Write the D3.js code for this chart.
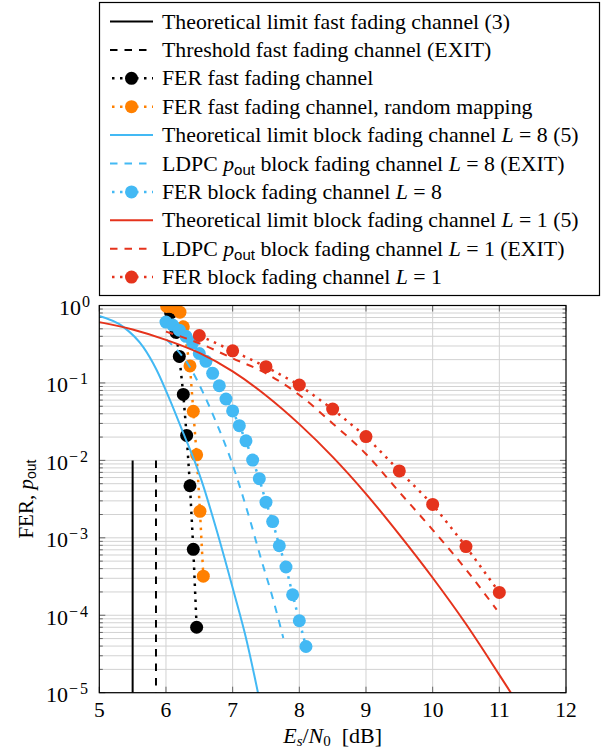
<!DOCTYPE html>
<html lang="en">
<head>
<meta charset="utf-8">
<script src="https://d3js.org/d3.v7.min.js"></script>
<style>
  body { margin: 0; background: #fff; }
  text { font-family: "Liberation Serif", "DejaVu Serif", serif; fill: #000; }
</style>
</head>
<body>
<svg id="chart" width="602" height="751"></svg>
<script>
// ---- data ----
const xTicks = [5, 6, 7, 8, 9, 10, 11, 12];
const yExps = [0, -1, -2, -3, -4, -5];

// fast fading limits (vertical lines from 1e-2 down)
const limitFast = [[5.5, 1e-2], [5.5, 1e-5]];
const thresholdFast = [[5.85, 1e-2], [5.85, 1e-5]];

const ferFastX = [6.07, 6.15, 6.2, 6.26, 6.31, 6.36, 6.41, 6.46];
const ferFastY = [0.8, 0.45, 0.22, 0.071, 0.021, 0.0047, 7.1e-4, 7e-5];

const ferRandX = [6.01, 6.07, 6.14, 6.21, 6.26, 6.36, 6.41, 6.46, 6.51, 6.56];
const ferRandY = [0.97, 0.97, 0.93, 0.82, 0.53, 0.166, 0.043, 0.0118, 0.0022, 3.2e-4];

const limitL8X = [5.0, 5.36, 5.66, 5.86, 6.06, 6.26, 6.46, 6.53, 6.76, 7.01, 7.21, 7.38];
const limitL8Y = [0.73, 0.53, 0.29, 0.147, 0.06, 0.0225, 0.0083, 0.0056, 0.00125, 2.1e-4, 4.7e-5, 1e-5];

const ldpcL8X = [6.01, 6.36, 6.56, 6.76, 6.96, 7.26, 7.43, 7.58, 7.76];
const ldpcL8Y = [0.36, 0.16, 0.074, 0.03, 0.011, 0.0017, 5.2e-4, 1.94e-4, 5.1e-5];

const ferL8X = [6.0, 6.1, 6.2, 6.3, 6.4, 6.5, 6.6, 6.7, 6.8, 6.9, 7.0,
                7.1, 7.2, 7.3, 7.4, 7.5, 7.6, 7.7, 7.8, 7.9, 8.0, 8.1];
const ferL8Y = [0.61, 0.56, 0.48, 0.40, 0.33, 0.24, 0.19, 0.133, 0.092, 0.062, 0.0435,
                0.0281, 0.0179, 0.0101, 0.0058, 0.00289, 0.00162, 7.9e-4, 4.2e-4, 1.84e-4, 8.5e-5, 3.95e-5];

const limitL1X = [5.0, 5.5, 6.0, 6.5, 7.0, 7.5, 8.0, 8.5, 9.0, 9.5, 10.0, 10.5, 11.0, 11.2];
const limitL1Y = [0.61, 0.49, 0.36, 0.244, 0.141, 0.069, 0.0294, 0.0111, 0.0037, 0.0011, 3.05e-4, 7.7e-5, 1.7e-5, 9.2e-6];

const ldpcL1X = [6.0, 6.5, 7.0, 7.5, 8.0, 8.5, 9.0, 9.5, 10.0, 10.5, 10.96];
const ldpcL1Y = [0.46, 0.325, 0.208, 0.133, 0.07, 0.03, 0.0121, 0.0039, 0.00127, 3.9e-4, 1.18e-4];

const ferL1X = [6.5, 7.0, 7.5, 8.0, 8.5, 9.0, 9.5, 10.0, 10.5, 11.0];
const ferL1Y = [0.41, 0.26, 0.162, 0.094, 0.046, 0.0203, 0.0073, 0.0027, 7.7e-4, 1.97e-4];

const black = "#000000", orange = "#ff8000", blue = "#43b9f4", red = "#e5331c";

// legend labels: segments [text, kind]
const legendLabels = [
  [["Theoretical limit fast fading channel (3)"]],
  [["Threshold fast fading channel (EXIT)"]],
  [["FER fast fading channel"]],
  [["FER fast fading channel, random mapping"]],
  [["Theoretical limit block fading channel "], ["L", "it"], [" = 8 (5)"]],
  [["LDPC "], ["p", "it"], ["out", "sub"], [" block fading channel "], ["L", "it"], [" = 8 (EXIT)"]],
  [["FER block fading channel "], ["L", "it"], [" = 8"]],
  [["Theoretical limit block fading channel "], ["L", "it"], [" = 1 (5)"]],
  [["LDPC "], ["p", "it"], ["out", "sub"], [" block fading channel "], ["L", "it"], [" = 1 (EXIT)"]],
  [["FER block fading channel "], ["L", "it"], [" = 1"]]
];

const zip = (xs, ys) => xs.map((v, i) => [v, ys[i]]);

const series = [
  {pts: limitFast, color: black, style: "solid"},
  {pts: thresholdFast, color: black, style: "dashed"},
  {pts: zip(ferFastX, ferFastY), color: black, style: "dotted", marker: true},
  {pts: zip(ferRandX, ferRandY), color: orange, style: "dotted", marker: true},
  {pts: zip(limitL8X, limitL8Y), color: blue, style: "solid", smooth: true},
  {pts: zip(ldpcL8X, ldpcL8Y), color: blue, style: "dashed", smooth: true},
  {pts: zip(ferL8X, ferL8Y), color: blue, style: "dotted", marker: true},
  {pts: zip(limitL1X, limitL1Y), color: red, style: "solid", smooth: true},
  {pts: zip(ldpcL1X, ldpcL1Y), color: red, style: "dashed", smooth: true},
  {pts: zip(ferL1X, ferL1Y), color: red, style: "dotted", marker: true}
];

// ---- layout ----
const pL = 99.3, pR = 566, pT = 305.5, pB = 692.7;
const x = d3.scaleLinear().domain([5, 12]).range([pL, pR]);
const y = d3.scaleLog().domain([1e-5, 1]).range([pB, pT]);

const svg = d3.select("#chart");
const dash = {solid: null, dashed: "7.5,7", dotted: "2.5,5.5"};
const lineW = {solid: 2, dashed: 2, dotted: 2.5};

// grid
const minorVals = [];
for (let e = -5; e <= 0; e++) for (let k = 1; k <= 9; k++) {
  const v = k * Math.pow(10, e);
  if (v <= 1) minorVals.push(v);
}
const grid = svg.append("g");
grid.selectAll("line.h").data(minorVals).join("line")
  .attr("x1", pL).attr("x2", pR)
  .attr("y1", d => y(d)).attr("y2", d => y(d))
  .attr("stroke", "#d2d2d2").attr("stroke-width", 1);
grid.selectAll("line.v").data(xTicks.slice(1, -1)).join("line")
  .attr("x1", d => x(d)).attr("x2", d => x(d))
  .attr("y1", pT).attr("y2", pB)
  .attr("stroke", "#d2d2d2").attr("stroke-width", 1);

// ticks (inside, all four sides)
const ticks = svg.append("g").attr("stroke", "#666").attr("stroke-width", 1);
minorVals.forEach(v => {
  const major = Math.abs(Math.log10(v) - Math.round(Math.log10(v))) < 1e-9;
  const len = major ? 6 : 3.5;
  ticks.append("line").attr("x1", pL).attr("x2", pL + len).attr("y1", y(v)).attr("y2", y(v));
  ticks.append("line").attr("x1", pR).attr("x2", pR - len).attr("y1", y(v)).attr("y2", y(v));
});
xTicks.forEach(v => {
  ticks.append("line").attr("x1", x(v)).attr("x2", x(v)).attr("y1", pB).attr("y2", pB - 6);
  ticks.append("line").attr("x1", x(v)).attr("x2", x(v)).attr("y1", pT).attr("y2", pT + 6);
});

// data
svg.append("clipPath").attr("id", "clip").append("rect")
  .attr("x", pL).attr("y", pT).attr("width", pR - pL).attr("height", pB - pT);
const plot = svg.append("g").attr("clip-path", "url(#clip)");

series.forEach(s => {
  const line = d3.line().x(d => x(d[0])).y(d => y(d[1]))
    .curve(s.smooth ? d3.curveMonotoneX : d3.curveLinear);
  plot.append("path").attr("d", line(s.pts))
    .attr("fill", "none").attr("stroke", s.color)
    .attr("stroke-width", lineW[s.style])
    .attr("stroke-dasharray", dash[s.style]);
  if (s.marker) {
    plot.append("g").selectAll("circle").data(s.pts).join("circle")
      .attr("cx", d => x(d[0])).attr("cy", d => y(d[1])).attr("r", 6.5)
      .attr("fill", s.color);
  }
});

// frame
svg.append("rect").attr("x", pL).attr("y", pT)
  .attr("width", pR - pL).attr("height", pB - pT)
  .attr("fill", "none").attr("stroke", "#000").attr("stroke-width", 1.2);

// x tick labels
svg.append("g").selectAll("text").data(xTicks).join("text")
  .attr("x", d => x(d)).attr("y", 717)
  .attr("text-anchor", "middle").attr("font-size", 21.5)
  .text(d => d);

// y tick labels 10^e
yExps.forEach(e => {
  const t = svg.append("text").attr("x", 90).attr("y", y(Math.pow(10, e)) + 9.5)
    .attr("text-anchor", "end").attr("font-size", 22);
  t.append("tspan").text("10");
  t.append("tspan").attr("dy", -8).attr("dx", 1).attr("font-size", 16)
    .attr("letter-spacing", e === 0 ? 0 : 2)
    .text(e === 0 ? "0" : "\u2212" + (-e));
});

// axis labels
const xl = svg.append("text").attr("x", (pL + pR) / 2).attr("y", 743)
  .attr("text-anchor", "middle").attr("font-size", 22);
xl.append("tspan").attr("font-style", "italic").text("E");
xl.append("tspan").attr("font-style", "italic").attr("font-size", 15).attr("dy", 3).text("s");
xl.append("tspan").attr("dy", -3).text("/");
xl.append("tspan").attr("font-style", "italic").text("N");
xl.append("tspan").attr("font-size", 15).attr("dy", 3).text("0");
xl.append("tspan").attr("dy", -3).text("\u2002[dB]");

const yl = svg.append("text")
  .attr("transform", `translate(33,${(pT + pB) / 2}) rotate(-90)`)
  .attr("text-anchor", "middle").attr("font-size", 21);
yl.append("tspan").text("FER, ");
yl.append("tspan").attr("font-style", "italic").text("p");
yl.append("tspan").attr("font-size", 14).attr("dy", 3)
  .style("font-family", "'Liberation Sans', sans-serif").text("out");

// legend
const lg = svg.append("g");
lg.append("rect").attr("x", 99.5).attr("y", 2.5).attr("width", 500).attr("height", 293)
  .attr("fill", "#fff").attr("stroke", "#000").attr("stroke-width", 1.2);
series.forEach((s, i) => {
  const cy = 21.5 + 28.4 * i;
  lg.append("line").attr("x1", 110).attr("x2", 153).attr("y1", cy).attr("y2", cy)
    .attr("stroke", s.color).attr("stroke-width", lineW[s.style])
    .attr("stroke-dasharray", dash[s.style])
    .attr("stroke-dashoffset", s.style === "dotted" ? -2 : 0);
  if (s.marker) lg.append("circle").attr("cx", 131.5).attr("cy", cy).attr("r", 6.5).attr("fill", s.color);
  const t = lg.append("text").attr("x", 162).attr("y", cy + 7).attr("font-size", 21.8)
    .attr("xml:space", "preserve");
  let shifted = 0;
  legendLabels[i].forEach(([txt, kind]) => {
    const ts = t.append("tspan").text(txt);
    if (kind === "it") ts.attr("font-style", "italic");
    if (kind === "sub") {
      ts.attr("font-size", 15).attr("dy", 4)
        .style("font-family", "'Liberation Sans', sans-serif");
      shifted = 4;
    } else if (shifted) {
      ts.attr("dy", -shifted);
      shifted = 0;
    }
  });
});
</script>
</body>
</html>
